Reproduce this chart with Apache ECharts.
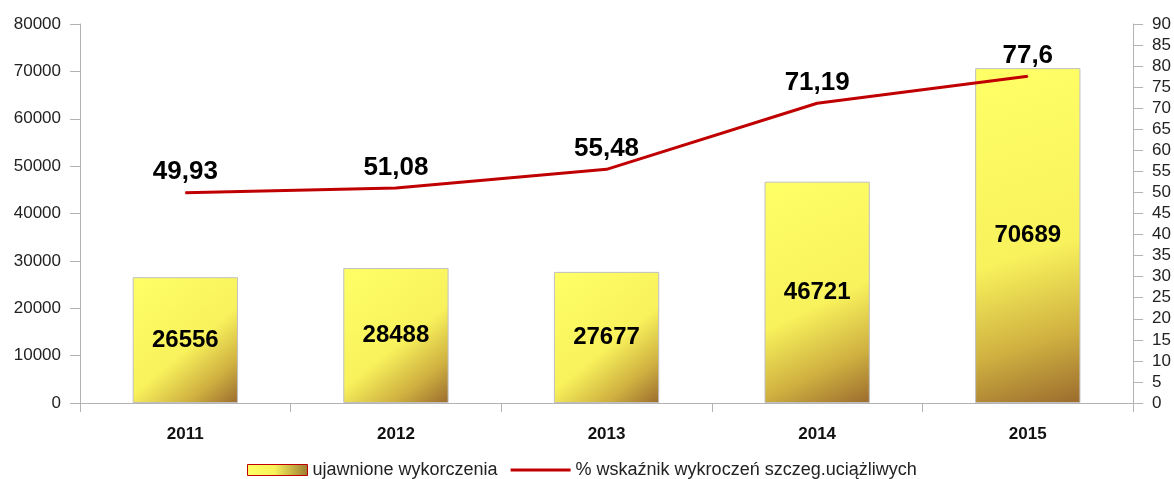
<!DOCTYPE html>
<html>
<head>
<meta charset="utf-8">
<script src="https://cdn.jsdelivr.net/npm/echarts@6/dist/echarts.min.js"></script>
<style>
  html, body { margin: 0; padding: 0; background: #fff; }
  #chart { width: 1174px; height: 479px; }
</style>
</head>
<body>
<div id="chart"></div>
<script>
// dane
var years = ['2011', '2012', '2013', '2014', '2015'];
var wykroczenia = [26556, 28488, 27677, 46721, 70689];
var wskaznik = [49.93, 51.08, 55.48, 71.19, 77.6];

var chart = echarts.init(document.getElementById('chart'));

var barFill = new echarts.graphic.LinearGradient(0, 0, 1, 1, [
    { offset: 0, color: '#ffff66' },
    { offset: 0.55, color: '#f8f25c' },
    { offset: 0.8, color: '#cfb040' },
    { offset: 1, color: '#9b6b2e' }
]);
var legendFill = new echarts.graphic.LinearGradient(0, 0, 1, 0, [
    { offset: 0, color: '#ffff66' },
    { offset: 0.45, color: '#f8f25c' },
    { offset: 1, color: '#9b7a30' }
]);

var option = {
    animation: false,
    textStyle: { fontFamily: 'Liberation Sans' },
    grid: { left: 80, right: 40, top: 24, bottom: 76 },
    legend: {
        top: 456,
        left: 242,
        itemWidth: 60,
        itemHeight: 11,
        itemGap: 13,
        textStyle: { fontSize: 18, color: '#222' },
        data: [
            { name: 'ujawnione wykorczenia', icon: 'rect', itemStyle: { color: legendFill, borderColor: '#c00000', borderWidth: 1 } },
            { name: '% wskaźnik wykroczeń szczeg.uciążliwych', icon: 'path://M0,0H60V3H0Z' }
        ]
    },
    xAxis: {
        type: 'category',
        data: years,
        axisLine: { lineStyle: { color: '#b3b3b3' } },
        axisTick: { show: true, length: 9, lineStyle: { color: '#b3b3b3' } },
        axisLabel: { fontSize: 17, fontWeight: 'bold', color: '#111', margin: 23 }
    },
    yAxis: [
        {
            type: 'value',
            min: 0, max: 80000, interval: 10000,
            splitLine: { show: false },
            axisLine: { show: true, lineStyle: { color: '#b3b3b3' } },
            axisTick: { show: true, length: 10, lineStyle: { color: '#b3b3b3' } },
            axisLabel: { fontSize: 17, color: '#222', margin: 19, formatter: function (v) { return String(v); } }
        },
        {
            type: 'value',
            min: 0, max: 90, interval: 5,
            splitLine: { show: false },
            axisLine: { show: true, lineStyle: { color: '#b3b3b3' } },
            axisTick: { show: true, length: 10, lineStyle: { color: '#b3b3b3' } },
            axisLabel: { fontSize: 17, color: '#222', margin: 19 }
        }
    ],
    series: [
        {
            name: 'ujawnione wykorczenia',
            type: 'bar',
            data: wykroczenia,
            barWidth: '50%',
            itemStyle: { color: barFill, borderColor: '#c0c0c0', borderWidth: 1 },
            label: {
                show: true,
                position: 'inside',
                fontSize: 24,
                fontWeight: 'bold',
                color: '#000'
            }
        },
        {
            name: '% wskaźnik wykroczeń szczeg.uciążliwych',
            type: 'line',
            yAxisIndex: 1,
            data: wskaznik,
            symbol: 'circle',
            symbolSize: 1,
            lineStyle: { color: '#c00000', width: 3 },
            itemStyle: { color: '#c00000' },
            label: {
                show: true,
                position: 'top',
                distance: 7,
                fontSize: 26,
                fontWeight: 'bold',
                color: '#000',
                formatter: function (p) { return String(p.value).replace('.', ','); }
            }
        }
    ]
};

chart.setOption(option);
</script>
</body>
</html>
